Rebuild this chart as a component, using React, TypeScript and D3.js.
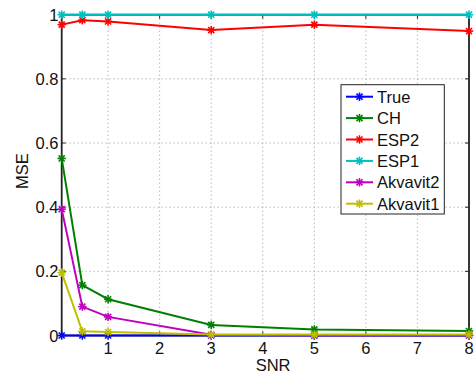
import React from "react";
import * as d3 from "d3";

const snr = [0.1, 0.5, 1, 3, 5, 8];
const seriesNames = ["True", "CH", "ESP2", "ESP1", "Akvavit2", "Akvavit1"];
const seriesColors = ["#0000ff", "#008000", "#ff0000", "#00bfbf", "#bf00bf", "#bfbf00"];
const trueVals = [0, 0, 0, 0, 0, 0];
const chVals = [0.552, 0.157, 0.113, 0.033, 0.019, 0.014];
const esp2Vals = [0.969, 0.983, 0.979, 0.952, 0.969, 0.949];
const esp1Vals = [1, 1, 1, 1, 1, 1];
const akv2Vals = [0.394, 0.09, 0.058, 0.002, 0.001, 0.001];
const akv1Vals = [0.196, 0.013, 0.011, 0.003, 0.003, 0.003];
const allVals = [trueVals, chVals, esp2Vals, esp1Vals, akv2Vals, akv1Vals];
const xTicks = [1, 2, 3, 4, 5, 6, 7, 8];
const yTicks = [0, 0.2, 0.4, 0.6, 0.8, 1];

const W = 475, H = 376;
const L = 61.7, R = 469, T = 14.7, B = 335.5;
const FONT = "'Liberation Sans', Arial, sans-serif";
const FS = 16.5;

function Star({ x, y, c, s = 4.2 }: { x: number; y: number; c: string; s?: number }) {
  const d = s * 0.72;
  return (
    <g stroke={c} strokeWidth={1.6}>
      <line x1={x - s} y1={y} x2={x + s} y2={y} />
      <line x1={x} y1={y - s} x2={x} y2={y + s} />
      <line x1={x - d} y1={y - d} x2={x + d} y2={y + d} />
      <line x1={x - d} y1={y + d} x2={x + d} y2={y - d} />
    </g>
  );
}

export default function App() {
  const x = d3.scaleLinear().domain([0.1, 8]).range([L, R]);
  const y = d3.scaleLinear().domain([0, 1]).range([B, T]);
  const line = d3.line<number>().x((_, i) => x(snr[i])).y((v) => y(v));

  const legX = 341, legY = 84.7, legW = 103.3, legH = 129.3;
  const legRow = (i: number) => 96.7 + i * 21.4;

  return (
    <svg width={W} height={H} style={{ position: "absolute", left: 0, top: 0, background: "#fff" }}>
      <rect x={0} y={0} width={W} height={H} fill="#fff" />
      {/* grid */}
      <g stroke="#999" strokeWidth={1} strokeDasharray="1,3">
        {xTicks.map((t) => (
          <line key={"gx" + t} x1={x(t)} x2={x(t)} y1={T} y2={B} />
        ))}
        {yTicks.map((t) => (
          <line key={"gy" + t} x1={L} x2={R} y1={y(t)} y2={y(t)} />
        ))}
      </g>
      {/* ticks inside */}
      <g stroke="#222" strokeWidth={1}>
        {xTicks.map((t) => (
          <g key={"tx" + t}>
            <line x1={x(t)} x2={x(t)} y1={B} y2={B - 4} />
            <line x1={x(t)} x2={x(t)} y1={T} y2={T + 4} />
          </g>
        ))}
        {yTicks.map((t) => (
          <g key={"ty" + t}>
            <line x1={L} x2={L + 4} y1={y(t)} y2={y(t)} />
            <line x1={R} x2={R - 4} y1={y(t)} y2={y(t)} />
          </g>
        ))}
      </g>
      {/* box */}
      <rect x={L} y={T} width={R - L} height={B - T} fill="none" stroke="#222" strokeWidth={1.8} />
      {/* series */}
      {allVals.map((vals, si) => (
        <g key={"s" + si}>
          <path d={line(vals) || ""} fill="none" stroke={seriesColors[si]} strokeWidth={2} />
          {vals.map((v, i) => (
            <Star key={i} x={x(snr[i])} y={y(v)} c={seriesColors[si]} />
          ))}
        </g>
      ))}
      {/* tick labels */}
      <g fontFamily={FONT} fontSize={FS} fill="#111">
        {xTicks.map((t) => (
          <text key={"lx" + t} x={x(t)} y={353.5} textAnchor="middle">
            {t}
          </text>
        ))}
        {yTicks.map((t) => (
          <text key={"ly" + t} x={58.5} y={y(t) + 6} textAnchor="end">
            {t}
          </text>
        ))}
        <text x={x(4.2)} y={371} textAnchor="middle">SNR</text>
        <text transform={`translate(27.5,171) rotate(-90)`} textAnchor="middle">MSE</text>
      </g>
      {/* legend */}
      <rect x={legX} y={legY} width={legW} height={legH} fill="#fff" stroke="#222" strokeWidth={1} />
      {seriesNames.map((n, i) => (
        <g key={"lg" + i}>
          <line x1={346} x2={373} y1={legRow(i)} y2={legRow(i)} stroke={seriesColors[i]} strokeWidth={2} />
          <Star x={359.5} y={legRow(i)} c={seriesColors[i]} />
          <text x={377} y={legRow(i) + 6} fontFamily={FONT} fontSize={FS} fill="#111">
            {n}
          </text>
        </g>
      ))}
    </svg>
  );
}
